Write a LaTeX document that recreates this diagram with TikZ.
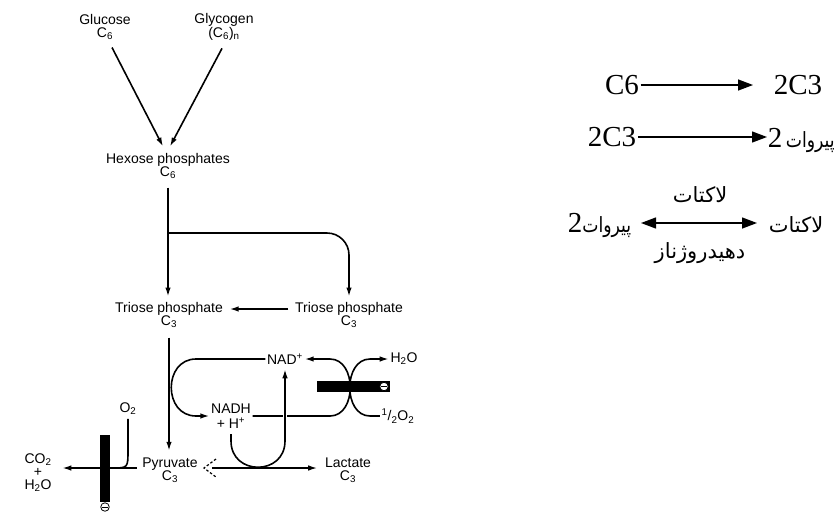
\documentclass[tikz,border=0pt]{standalone}
\usepackage{fontspec}
\setmainfont{Liberation Serif}
\newfontfamily\labelfont{Liberation Sans}
\newfontfamily\persianfont[Script=Arabic]{DejaVu Sans}
\newfontfamily\persiannarrow[Script=Arabic, FakeStretch=0.82]{DejaVu Sans}
\TeXXeTstate=1
\usetikzlibrary{arrows.meta,calc}
\newcommand{\chsub}[1]{\textsubscript{#1}}
\newcommand{\chsup}[1]{\textsuperscript{#1}}
\newcommand{\numtwo}{{\rmfamily\fontsize{29}{30}\selectfont 2}}
\newcommand{\pyrword}{{\persiannarrow پیروات}}

\begin{document}
\begin{tikzpicture}[x=1pt, y=-1pt, line width=1.6pt,
    every node/.style={inner sep=1pt},
    lbl/.style={font=\labelfont\fontsize{14}{13}\selectfont, align=center},
    arr/.style={-{Latex[length=9pt,width=5.5pt]}},
    bigarr/.style={line width=1.3pt, -{Triangle[length=15pt,width=11pt]}},
    eqn/.style={font=\fontsize{29}{30}\selectfont},
    fa/.style={font=\persianfont\fontsize{21}{24}\selectfont},
    stopmark/.style={circle, draw, fill=white, line width=0.8pt, minimum size=8.5pt, inner sep=0pt,
      path picture={\draw[line width=0.8pt] ([xshift=-2.6pt]path picture bounding box.center) -- ([xshift=2.6pt]path picture bounding box.center);}}]
  \useasboundingbox (0,0) rectangle (837,512);

  % glycolysis scheme
  \node[lbl] (glucose) at (105,27) {Glucose\\C\chsub{6}};
  \node[lbl] (glycogen) at (224,27) {Glycogen\\(C\chsub{6})\chsub{n}};
  \node[lbl] (hexose) at (168,166) {Hexose phosphates\\C\chsub{6}};
  \node[lbl] (trioseL) at (169,315) {Triose phosphate\\C\chsub{3}};
  \node[lbl] (trioseR) at (349,315) {Triose phosphate\\C\chsub{3}};
  \node[lbl] (pyruvate) at (170,470) {Pyruvate\\C\chsub{3}};
  \node[lbl] (lactate) at (348,470) {Lactate\\C\chsub{3}};
  \node[lbl] (nad) at (285,359) {NAD\chsup{+}};
  \node[lbl, font=\labelfont\fontsize{14}{15}\selectfont] (nadh) at (231,416) {NADH\\+ H\chsup{+}};
  \node[lbl] (water) at (404,359) {H\chsub{2}O};
  \node[lbl] (halfox) at (398,416) {\chsup{1}/\chsub{2}O\chsub{2}};
  \node[lbl] (oxy) at (128,409) {O\chsub{2}};
  \node[lbl] (co2) at (38,473) {CO\chsub{2}\\+\\H\chsub{2}O};

  \draw[arr] ([xshift=7pt,yshift=-6pt]glucose.south) -- ([xshift=-5pt,yshift=5pt]hexose.north);
  \draw[arr] ([xshift=-2pt,yshift=-6pt]glycogen.south) -- ([xshift=2pt,yshift=5pt]hexose.north);
  \draw[arr] ([yshift=-7pt]hexose.south) -- ([yshift=4pt]hexose.south |- trioseL.north);
  \coordinate (split) at (168,233);
  \draw[arr, rounded corners=22pt] (split) -| ([yshift=4pt]trioseR.north);
  \draw[arr, shorten <=5pt, shorten >=5pt] ([yshift=6pt]trioseR.west) -- ([yshift=6pt]trioseL.east);
  \draw[arr] ([yshift=-8pt]trioseL.south) -- ([yshift=5pt]trioseL.south |- pyruvate.north);

  % NAD+/NADH cycle
  \draw[arr] (nad.west) -- (196,359) .. controls (163,359) and (163,416) .. (196,416) -- (nadh.west);
  \draw[arr] (nadh.east) -- (330,416) .. controls (357,416) and (357,359) .. (330,359) -- (nad.east);
  \draw[arr] (halfox.west) -- (370,416) .. controls (343,416) and (343,359) .. (370,359) -- (water.west);
  \fill (317,381) rectangle (390,392);
  \node[stopmark] (stopA) at (384,386.5) {};

  \draw[white, line width=4pt] (285,410) -- (285,422);
  \draw[arr] ([yshift=-4pt]nadh.south) -- (231,441) .. controls (231,476) and (285,476) .. (285,441) -- ([yshift=-3pt]nad.south);

  \coordinate (revtip) at (204,468);
  \draw[arr, shorten >=6pt] ([xshift=8pt]revtip) -- (revtip -| lactate.west);
  \draw[line width=1.2pt, dash pattern=on 2.5pt off 2pt] ($(revtip)+(12,-9)$) -- (revtip) -- ($(revtip)+(12,9)$);

  % oxidation of pyruvate
  \coordinate (join) at (112,468);
  \draw[arr] ($(pyruvate.west |- revtip)+(-4,0)$) -- ($(co2.east |- revtip)+(9,0)$);
  \draw ([yshift=-2pt]oxy.south) -- (128,450) .. controls (128,468) .. (join);
  \fill (100,435) rectangle (110,502);
  \node[stopmark] (stopB) at (105,507) {};

  % summary equations
  \node[eqn] (c6) at (622,85) {C6};
  \node[eqn] (c3a) at (798,85) {2C3};
  \draw[bigarr] (c6.east) -- ([xshift=-19pt]c3a.west);

  \node[eqn] (c3b) at (612,137) {2C3};
  \node[fa, anchor=base west, inner sep=0pt] (pyr2) at (767,147) {\beginR\pyrword\,\numtwo\endR};
  \draw[bigarr] (c3b.east) -- (pyr2.west |- c3b.east);

  \node[fa] (lacTop) at (700,195) {\beginR لاکتات\endR};
  \node[fa, anchor=base east] (pyr3) at (633,232) {\beginR\pyrword\numtwo\endR};
  \node[fa, anchor=base west] (lac3) at (767,232) {\beginR لاکتات\endR};
  \node[fa] (ldh) at (700,253) {\beginR دهیدروژناز\endR};
  \coordinate (eqm) at (700,223);
  \draw[bigarr, {Triangle[length=15pt,width=11pt]}-{Triangle[length=15pt,width=11pt]}, shorten <=8pt, shorten >=10pt]
    (pyr3.east |- eqm) -- (lac3.west |- eqm);
\end{tikzpicture}
\end{document}
